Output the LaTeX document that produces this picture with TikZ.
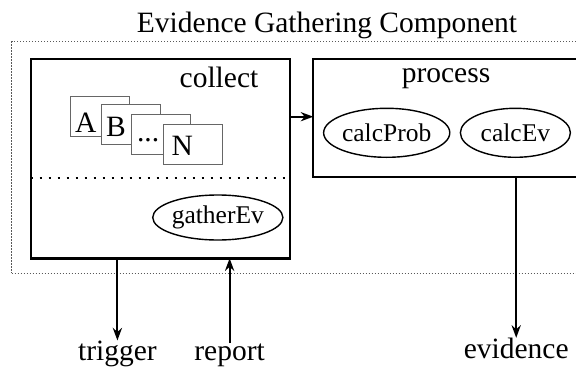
\documentclass[tikz,border=0pt]{standalone}
\usepackage{fontspec}
\setmainfont{Liberation Serif}
\usetikzlibrary{arrows.meta,positioning,shapes.geometric}

\begin{document}
\begin{tikzpicture}[
  x=0.5pt, y=-0.5pt,
  every node/.style={font=\fontsize{14.75}{17}\selectfont, inner sep=0pt, outer sep=0pt},
  frame/.style={draw=black!65, line width=0.55pt, dash pattern=on 0.6pt off 0.9pt},
  comp/.style={draw, line width=1.2pt},
  card/.style={draw=black!60, fill=white, line width=0.5pt, minimum width=29.5pt, minimum height=20pt},
  task/.style={draw, ellipse, line width=0.7pt, font=\fontsize{12.75}{15}\selectfont,
    minimum width=55pt, minimum height=24.5pt},
  split/.style={line width=1.1pt, dash pattern=on 1pt off 3.5pt},
  arr/.style={-{Stealth[length=6.3pt,width=4.6pt]}, line width=1pt}
]
\path[use as bounding box] (0,0) rectangle (576,369);
\clip (0,0) rectangle (576,369);

\node[anchor=base] (title) at (327,32.3) {Evidence Gathering Component};
\node[frame, minimum width=314.15pt, minimum height=115.8pt] (gathering) at (325.85,157.5) {};

% collect part
\node[comp, minimum width=129.65pt, minimum height=99.65pt] (collect) at (160.35,158.65) {};
\node[anchor=base] (collectlbl) at (219,87) {collect};
\node[card] (cardA) at (100,116.7) {};
\node[anchor=base west] (txtA) at (75,132.7) {A};
\node[card] (cardB) at (131.2,124.2) {};
\node[anchor=base west] (txtB) at (106,136.7) {B};
\node[card] (cardDots) at (161.2,134) {};
\node[anchor=base west] (txtDots) at (137,141) {...};
\node[card] (cardN) at (193.3,144) {};
\node[anchor=base west] (txtN) at (171.7,155) {N};
\draw[split] (collect.west |- 0,178.3) -- (collect.east |- 0,178.3);
\node[task, minimum width=60.5pt, minimum height=22.5pt] (gatherEv) at (217.8,217.5) {gatherEv};

% process part
\node[comp, line width=0.95pt, minimum width=153.35pt, minimum height=58.85pt] (process) at (466.65,117.85) {};
\node[anchor=base] (processlbl) at (446,82.7) {process};
\node[task] (calcProb) at (386.7,132.8) {calcProb};
\node[task, right=5.3pt of calcProb] (calcEv) {calcEv};

% outside
\node[anchor=base] (trigger) at (117.4,360) {trigger};
\node[anchor=base] (report) at (229.6,360) {report};
\node[anchor=base] (evidence) at (516.2,358.3) {evidence};

\draw[arr] (collect.east |- cardA) -- (process.west |- cardA);
\draw[arr] (collect.south -| trigger) -- (trigger.north);
\draw[arr] (report.north) -- (collect.south -| report);
\draw[arr] (process.south -| evidence) -- (evidence.north);
\end{tikzpicture}
\end{document}
